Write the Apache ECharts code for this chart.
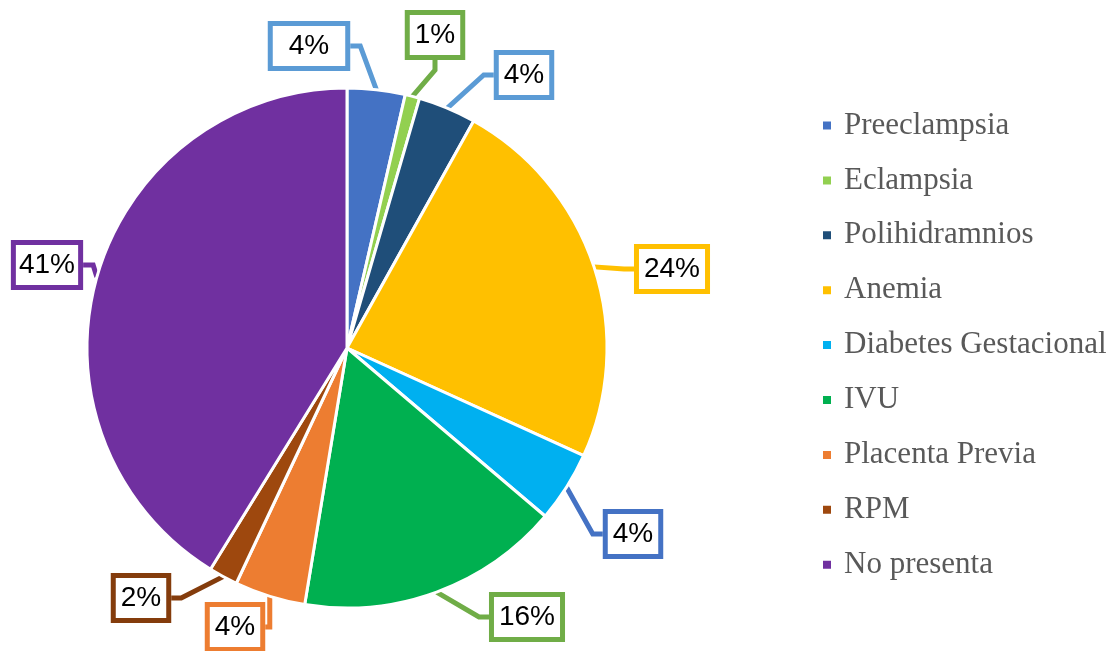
<!DOCTYPE html>
<html lang="es">

<head>
    <meta charset="utf-8">
    <title>Complicaciones</title>
    <style>
        * {
            margin: 0;
            padding: 0;
        }

        #chart-container {
            width: 1118px;
            height: 651px;
            background: #fff;
        }
    </style>
</head>

<body>
    <div id="chart-container"></div>
    <script src="https://cdn.jsdelivr.net/npm/echarts@6/dist/echarts.min.js"></script>
    <script>
        // datos
        var categories = ['Preeclampsia', 'Eclampsia', 'Polihidramnios', 'Anemia', 'Diabetes Gestacional',
            'IVU', 'Placenta Previa', 'RPM', 'No presenta'];
        var values = [3.6, 0.9, 3.6, 23.7, 4.4, 16.4, 4.4, 1.8, 41.2];
        var sliceColors = ['#4472C4', '#92D050', '#1F4E79', '#FFC000', '#00B0F0',
            '#00B050', '#ED7D31', '#9E480E', '#7030A0'];
        var boxColors = ['#5B9BD5', '#70AD47', '#5B9BD5', '#FFC000', '#4472C4',
            '#70AD47', '#ED7D31', '#843C0C', '#7030A0'];
        // centros de las etiquetas (px)
        var labelPos = [[309, 46], [435, 35], [524, 75], [672, 269], [633, 534],
            [527, 617], [235, 627], [141, 598], [47, 265]];

        var dom = document.getElementById('chart-container');
        var myChart = echarts.init(dom, null, { renderer: 'canvas' });
        var option;

        var seriesData = categories.map(function (name, i) {
            var lbl = { borderColor: boxColors[i] };
            if (i === 0) lbl.padding = [6, 16, 4, 16];
            return {
                name: name,
                value: values[i],
                itemStyle: { color: sliceColors[i] },
                label: lbl,
                labelLine: { lineStyle: { color: boxColors[i] } }
            };
        });

        option = {
            animation: false,
            legend: {
                orient: 'vertical',
                left: 816,
                top: 105,
                icon: 'rect',
                itemWidth: 10,
                itemHeight: 10,
                itemGap: 23.9,
                data: categories,
                textStyle: {
                    fontFamily: 'Liberation Serif',
                    fontSize: 31,
                    lineHeight: 30,
                    color: '#595959',
                    padding: [0, 0, 0, 7]
                }
            },
            series: [
                {
                    type: 'pie',
                    center: [347, 348],
                    radius: 260,
                    startAngle: 90,
                    clockwise: true,
                    itemStyle: {
                        borderColor: '#fff',
                        borderWidth: 3
                    },
                    label: {
                        show: true,
                        position: 'outside',
                        overflow: 'none',
                        formatter: function (p) {
                            return Math.round(p.value) + '%';
                        },
                        fontFamily: 'Liberation Sans',
                        fontSize: 28,
                        lineHeight: 30,
                        color: '#000',
                        backgroundColor: '#fff',
                        borderWidth: 5,
                        padding: [6, 5, 4, 5]
                    },
                    labelLine: {
                        show: true,
                        length: 10,
                        length2: 10,
                        smooth: false,
                        lineStyle: { width: 5 }
                    },
                    labelLayout: function (params) {
                        var pos = labelPos[params.dataIndex];
                        return {
                            x: pos[0],
                            y: pos[1],
                            align: 'center',
                            verticalAlign: 'middle'
                        };
                    },
                    data: seriesData
                }
            ]
        };

        if (option && typeof option === 'object') {
            myChart.setOption(option);
        }

        window.addEventListener('resize', myChart.resize);
    </script>
</body>

</html>
